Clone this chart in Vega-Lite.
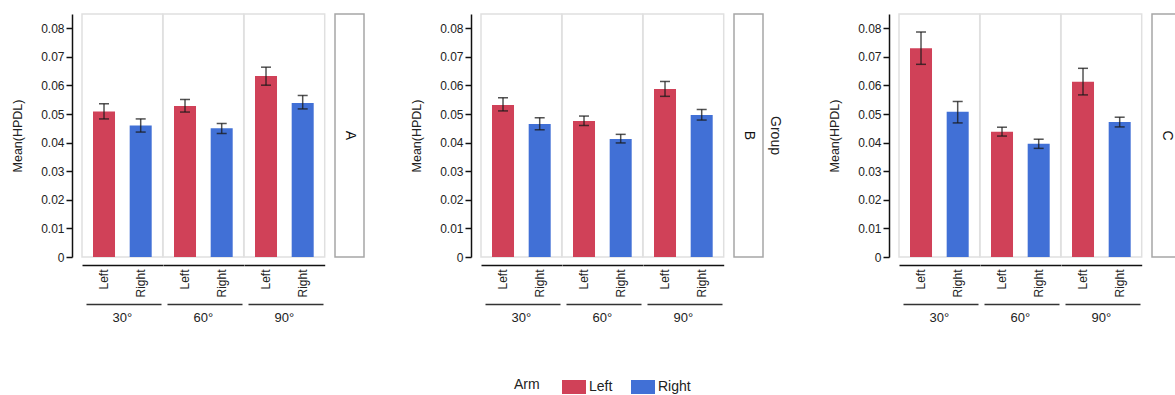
{
  "$schema": "https://vega.github.io/schema/vega-lite/v6.json",
  "padding": {"left": 11, "top": 13, "right": 0, "bottom": 0},
  "background": "white",
  "config": {
    "font": "Liberation Sans",
    "view": {"stroke": "#e0e0e0", "strokeWidth": 1.5},
    "axis": {"labelColor": "#222", "titleColor": "#222", "titleFontWeight": "normal", "grid": false},
    "axisY": {"titleFontSize": 12.5, "titlePadding": 16, "offset": 10, "values": [0, 0.005, 0.01, 0.015, 0.02, 0.025, 0.03, 0.035, 0.04, 0.045, 0.05, 0.055, 0.06, 0.065, 0.07, 0.075, 0.08, 0.085], "labelExpr": "datum.value === 0 ? '0' : (round(datum.value * 1000) % 10 === 5 ? '' : format(datum.value, '.2f'))", "labelOverlap": false, "labelFontSize": 12, "labelPadding": 2, "tickSize": {"condition": {"test": "round(datum.value * 1000) % 10 === 5", "value": 3}, "value": 6}, "tickColor": "#111", "tickWidth": 1.5, "domainColor": "#111", "domainWidth": 1.5}
  },
  "data": {
    "values": [
      {"Group": "A", "Angle": "30°", "Arm": "Left", "Mean": 0.0509, "Lo": 0.0483, "Hi": 0.0536},
      {"Group": "A", "Angle": "30°", "Arm": "Right", "Mean": 0.0460, "Lo": 0.0437, "Hi": 0.0483},
      {"Group": "A", "Angle": "60°", "Arm": "Left", "Mean": 0.0528, "Lo": 0.0507, "Hi": 0.0551},
      {"Group": "A", "Angle": "60°", "Arm": "Right", "Mean": 0.0450, "Lo": 0.0432, "Hi": 0.0467},
      {"Group": "A", "Angle": "90°", "Arm": "Left", "Mean": 0.0633, "Lo": 0.0601, "Hi": 0.0664},
      {"Group": "A", "Angle": "90°", "Arm": "Right", "Mean": 0.0539, "Lo": 0.0518, "Hi": 0.0565},
      {"Group": "B", "Angle": "30°", "Arm": "Left", "Mean": 0.0532, "Lo": 0.0511, "Hi": 0.0557},
      {"Group": "B", "Angle": "30°", "Arm": "Right", "Mean": 0.0465, "Lo": 0.0445, "Hi": 0.0487},
      {"Group": "B", "Angle": "60°", "Arm": "Left", "Mean": 0.0476, "Lo": 0.0460, "Hi": 0.0493},
      {"Group": "B", "Angle": "60°", "Arm": "Right", "Mean": 0.0413, "Lo": 0.0399, "Hi": 0.0429},
      {"Group": "B", "Angle": "90°", "Arm": "Left", "Mean": 0.0588, "Lo": 0.0562, "Hi": 0.0614},
      {"Group": "B", "Angle": "90°", "Arm": "Right", "Mean": 0.0497, "Lo": 0.0479, "Hi": 0.0516},
      {"Group": "C", "Angle": "30°", "Arm": "Left", "Mean": 0.0730, "Lo": 0.0674, "Hi": 0.0787},
      {"Group": "C", "Angle": "30°", "Arm": "Right", "Mean": 0.0508, "Lo": 0.0469, "Hi": 0.0544},
      {"Group": "C", "Angle": "60°", "Arm": "Left", "Mean": 0.0438, "Lo": 0.0423, "Hi": 0.0454},
      {"Group": "C", "Angle": "60°", "Arm": "Right", "Mean": 0.0396, "Lo": 0.0380, "Hi": 0.0412},
      {"Group": "C", "Angle": "90°", "Arm": "Left", "Mean": 0.0613, "Lo": 0.0567, "Hi": 0.0660},
      {"Group": "C", "Angle": "90°", "Arm": "Right", "Mean": 0.0472, "Lo": 0.0455, "Hi": 0.0489}
    ]
  },
  "spacing": 45,
  "hconcat": [
    {
      "spacing": 8,
      "hconcat": [
        {
          "transform": [{"filter": "datum.Group === 'A'"}],
          "facet": {"column": {"field": "Angle", "type": "nominal", "header": {"title": null, "labelOrient": "bottom", "labelFontSize": 13, "labelPadding": 8, "labelColor": "#222"}}},
          "spacing": 0,
          "bounds": "flush",
          "spec": {
            "width": 80.7, "height": 243,
            "resolve": {"axis": {"x": "independent"}},
            "layer": [
              {
                "mark": {"type": "bar"},
                "encoding": {
                  "x": {"field": "Arm", "type": "nominal", "scale": {"paddingInner": 0.4, "paddingOuter": 0.3}, "axis": {"orient": "bottom", "title": null, "labelAngle": -90, "ticks": false, "domainColor": "#111", "domainWidth": 1.5, "offset": 8, "labelPadding": 4, "labelFontSize": 12}},
                  "y": {"field": "Mean", "type": "quantitative", "title": "Mean(HPDL)", "scale": {"domain": [0, 0.085], "nice": false}},
                  "color": {"field": "Arm", "type": "nominal", "scale": {"domain": ["Left", "Right"], "range": ["#d04158", "#4170d6"]}, "legend": {"title": "Arm", "orient": "none", "legendX": 432, "legendY": 361, "direction": "horizontal", "titleOrient": "left", "symbolType": "M-1,-0.583L1,-0.583L1,0.583L-1,0.583Z", "symbolSize": 576, "symbolStrokeWidth": 0, "symbolOpacity": 1, "labelFontSize": 14, "titleFontSize": 14, "titleFontWeight": "normal", "titlePadding": 22, "labelOffset": 3, "columnPadding": 18, "labelColor": "#222", "titleColor": "#222"}}
                }
              },
              {
                "mark": {"type": "errorbar", "color": "#1a1a1a", "opacity": 0.75, "thickness": 1.5, "ticks": {"size": 10, "thickness": 1.5}},
                "encoding": {
                  "x": {"field": "Arm", "type": "nominal", "axis": {"orient": "bottom", "title": null, "labels": false, "ticks": false, "offset": 47, "domainColor": "#333", "domainWidth": 1.5, "domainDash": [75, 6], "domainDashOffset": 77}},
                  "y": {"field": "Lo", "type": "quantitative", "title": "Mean(HPDL)"},
                  "y2": {"field": "Hi"}
                }
              }
            ]
          }
        },
        {
          "width": 29, "height": 243,
          "view": {"stroke": "#a6a6a6", "strokeWidth": 1.5},
          "transform": [{"filter": "datum.Group === 'A'"}, {"aggregate": [{"op": "count", "as": "n"}], "groupby": ["Group"]}],
          "mark": {"type": "text", "angle": 90, "fontSize": 14, "color": "#111"},
          "encoding": {"text": {"field": "Group", "type": "nominal"}}
        }
      ]
    },
    {
      "spacing": 8,
      "hconcat": [
        {
          "transform": [{"filter": "datum.Group === 'B'"}],
          "facet": {"column": {"field": "Angle", "type": "nominal", "header": {"title": null, "labelOrient": "bottom", "labelFontSize": 13, "labelPadding": 8, "labelColor": "#222"}}},
          "spacing": 0,
          "bounds": "flush",
          "spec": {
            "width": 80.7, "height": 243,
            "resolve": {"axis": {"x": "independent"}},
            "layer": [
              {
                "mark": {"type": "bar"},
                "encoding": {
                  "x": {"field": "Arm", "type": "nominal", "scale": {"paddingInner": 0.4, "paddingOuter": 0.3}, "axis": {"orient": "bottom", "title": null, "labelAngle": -90, "ticks": false, "domainColor": "#111", "domainWidth": 1.5, "offset": 8, "labelPadding": 4, "labelFontSize": 12}},
                  "y": {"field": "Mean", "type": "quantitative", "title": "Mean(HPDL)", "scale": {"domain": [0, 0.085], "nice": false}},
                  "color": {"field": "Arm", "type": "nominal", "scale": {"domain": ["Left", "Right"], "range": ["#d04158", "#4170d6"]}}
                }
              },
              {
                "mark": {"type": "errorbar", "color": "#1a1a1a", "opacity": 0.75, "thickness": 1.5, "ticks": {"size": 10, "thickness": 1.5}},
                "encoding": {
                  "x": {"field": "Arm", "type": "nominal", "axis": {"orient": "bottom", "title": null, "labels": false, "ticks": false, "offset": 47, "domainColor": "#333", "domainWidth": 1.5, "domainDash": [75, 6], "domainDashOffset": 77}},
                  "y": {"field": "Lo", "type": "quantitative", "title": "Mean(HPDL)"},
                  "y2": {"field": "Hi"}
                }
              }
            ]
          }
        },
        {
          "width": 29, "height": 243,
          "view": {"stroke": "#a6a6a6", "strokeWidth": 1.5},
          "title": {"text": "Group", "orient": "right", "fontSize": 14, "fontWeight": "normal", "offset": 5, "color": "#222"},
          "transform": [{"filter": "datum.Group === 'B'"}, {"aggregate": [{"op": "count", "as": "n"}], "groupby": ["Group"]}],
          "mark": {"type": "text", "angle": 90, "fontSize": 14, "color": "#111"},
          "encoding": {"text": {"field": "Group", "type": "nominal"}}
        }
      ]
    },
    {
      "spacing": 8,
      "hconcat": [
        {
          "transform": [{"filter": "datum.Group === 'C'"}],
          "facet": {"column": {"field": "Angle", "type": "nominal", "header": {"title": null, "labelOrient": "bottom", "labelFontSize": 13, "labelPadding": 8, "labelColor": "#222"}}},
          "spacing": 0,
          "bounds": "flush",
          "spec": {
            "width": 80.7, "height": 243,
            "resolve": {"axis": {"x": "independent"}},
            "layer": [
              {
                "mark": {"type": "bar"},
                "encoding": {
                  "x": {"field": "Arm", "type": "nominal", "scale": {"paddingInner": 0.4, "paddingOuter": 0.3}, "axis": {"orient": "bottom", "title": null, "labelAngle": -90, "ticks": false, "domainColor": "#111", "domainWidth": 1.5, "offset": 8, "labelPadding": 4, "labelFontSize": 12}},
                  "y": {"field": "Mean", "type": "quantitative", "title": "Mean(HPDL)", "scale": {"domain": [0, 0.085], "nice": false}},
                  "color": {"field": "Arm", "type": "nominal", "scale": {"domain": ["Left", "Right"], "range": ["#d04158", "#4170d6"]}}
                }
              },
              {
                "mark": {"type": "errorbar", "color": "#1a1a1a", "opacity": 0.75, "thickness": 1.5, "ticks": {"size": 10, "thickness": 1.5}},
                "encoding": {
                  "x": {"field": "Arm", "type": "nominal", "axis": {"orient": "bottom", "title": null, "labels": false, "ticks": false, "offset": 47, "domainColor": "#333", "domainWidth": 1.5, "domainDash": [75, 6], "domainDashOffset": 77}},
                  "y": {"field": "Lo", "type": "quantitative", "title": "Mean(HPDL)"},
                  "y2": {"field": "Hi"}
                }
              }
            ]
          }
        },
        {
          "width": 29, "height": 243,
          "view": {"stroke": "#a6a6a6", "strokeWidth": 1.5},
          "transform": [{"filter": "datum.Group === 'C'"}, {"aggregate": [{"op": "count", "as": "n"}], "groupby": ["Group"]}],
          "mark": {"type": "text", "angle": 90, "fontSize": 14, "color": "#111"},
          "encoding": {"text": {"field": "Group", "type": "nominal"}}
        }
      ]
    }
  ]
}
